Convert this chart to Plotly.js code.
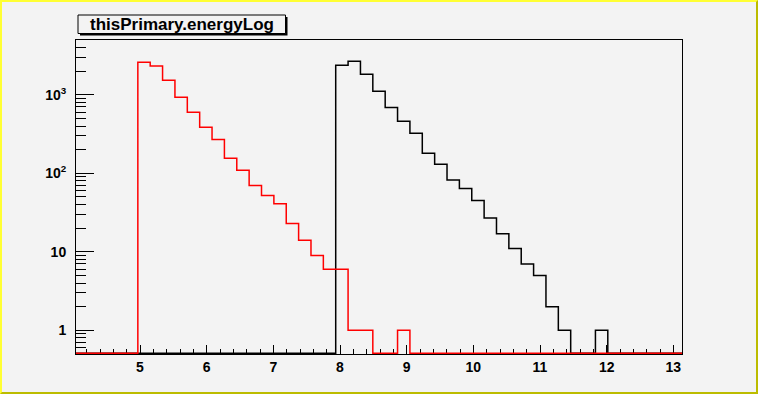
<!DOCTYPE html>
<html>
<head>
<meta charset="utf-8">
<script src="https://cdn.plot.ly/plotly-3.0.1.min.js"></script>
<style>
  html, body { margin: 0; padding: 0; background: #f3f3f3; }
  #wrap { position: absolute; left: 0; top: 0; width: 758px; height: 394px; box-sizing: border-box;
          border-top: 2px solid #ffff33; border-left: 2px solid #ffff33;
          border-bottom: 2px solid #bcbc00; border-right: 2px solid #bcbc00; overflow: hidden; }
  #chart { position: absolute; left: -2px; top: -2px; width: 758px; height: 394px; }
</style>
</head>
<body>
<div id="wrap"><div id="chart"></div></div>
<script>
// ---- data ----
const chartTitle = "thisPrimary.energyLog";
const binLow = 4.04;
const binHigh = 13.13;
const nBins = 49;
// red histogram (bin contents, bins 0..48)
const redCounts = [0,0,0,0,0, 2600,2330,1530,930,600,385,270,155,109,70,52,41,23,14,9,6,6,1,1,0,0,1,
  0,0,0,0,0,0,0,0,0,0,0,0,0,0,0,0,0,0,0,0,0,0];
// black histogram (bin contents, bins 0..48)
const blackCounts = [0,0,0,0,0,0,0,0,0,0,0,0,0,0,0,0,0,0,0,0,0,
  2380,2670,1820,1110,690,460,323,180,130,82,64,45,27,17,11,7,5,2,1,0,0,1,
  0,0,0,0,0,0];
const yTickVals = [1, 10, 100, 1000];
const yTickText = ["1", "10", "10<sup>2</sup>", "10<sup>3</sup>"];
const xTickVals = [5, 6, 7, 8, 9, 10, 11, 12, 13];

// ---- layout constants ----
const W = 758, H = 394;
const mL = 76, mR = 76, mT = 40, mB = 40;
const yLogMin = -0.301, yLogMax = 3.697;
const floorVal = Math.pow(10, yLogMin + 0.008);

function stepTrace(counts, color) {
  const w = (binHigh - binLow) / nBins;
  const xs = [], ys = [];
  for (let i = 0; i < nBins; i++) {
    xs.push(binLow + i * w);
    ys.push(Math.max(counts[i], floorVal));
  }
  xs.push(binHigh);
  ys.push(Math.max(counts[nBins - 1], floorVal));
  return { type: 'scatter', mode: 'lines', x: xs, y: ys,
    line: { shape: 'hv', color: color, width: 1.5 }, hoverinfo: 'skip', showlegend: false };
}

// minor tick values for the log axis
const yMinor = [];
for (let d = -1; d <= 3; d++) {
  for (let k = 2; k <= 9; k++) {
    const v = k * Math.pow(10, d);
    if (Math.log10(v) > yLogMin && Math.log10(v) < yLogMax) yMinor.push(v);
  }
}

const pw = W - mL - mR, ph = H - mT - mB;
const px = p => (p - mL) / pw;
const py = p => (H - mB - p) / ph;

const tickFont = { family: 'Liberation Sans, Arial, sans-serif', size: 14, color: '#000', weight: 'bold' };

const layout = {
  width: W, height: H,
  margin: { l: mL, r: mR, t: mT, b: mB, pad: 0 },
  paper_bgcolor: '#f3f3f3', plot_bgcolor: '#f3f3f3',
  showlegend: false,
  xaxis: {
    range: [binLow, binHigh], showgrid: false, zeroline: false,
    showline: true, linecolor: '#000', linewidth: 1, mirror: true,
    ticks: 'inside', ticklen: 9, tickcolor: '#000', tickwidth: 1,
    tickmode: 'array', tickvals: xTickVals, ticktext: xTickVals.map(String),
    minor: { dtick: 0.2, tick0: 0, ticks: 'inside', ticklen: 5, tickcolor: '#000', tickwidth: 1, showgrid: false },
    tickfont: tickFont, layer: 'below traces', ticklabelstandoff: 0
  },
  yaxis: {
    type: 'log', range: [yLogMin, yLogMax], showgrid: false, zeroline: false,
    showline: true, linecolor: '#000', linewidth: 1, mirror: true,
    ticks: 'inside', ticklen: 18, tickcolor: '#000', tickwidth: 1,
    tickmode: 'array', tickvals: yTickVals, ticktext: yTickText,
    minor: { tickmode: 'array', tickvals: yMinor, ticks: 'inside', ticklen: 10, tickcolor: '#000', tickwidth: 1, showgrid: false },
    tickfont: tickFont, layer: 'below traces', ticklabelstandoff: 6
  },
  shapes: [
    { type: 'rect', xref: 'paper', yref: 'paper', layer: 'above',
      x0: px(80), x1: px(287.5), y0: py(17), y1: py(35.5),
      fillcolor: '#000', line: { width: 0 } },
    { type: 'rect', xref: 'paper', yref: 'paper', layer: 'above',
      x0: px(78), x1: px(285.5), y0: py(15), y1: py(33.5),
      fillcolor: '#f3f3f3', line: { color: '#000', width: 1 } }
  ],
  annotations: [
    { text: chartTitle, xref: 'paper', yref: 'paper', x: px(181.5), y: py(24.5),
      xanchor: 'center', yanchor: 'middle', showarrow: false,
      font: { family: 'Liberation Sans, Arial, sans-serif', size: 17, color: '#000', weight: 'bold' } }
  ]
};

Plotly.newPlot('chart', [stepTrace(blackCounts, '#000'), stepTrace(redCounts, '#ff0000')], layout,
  { staticPlot: true, displayModeBar: false });
</script>
</body>
</html>
